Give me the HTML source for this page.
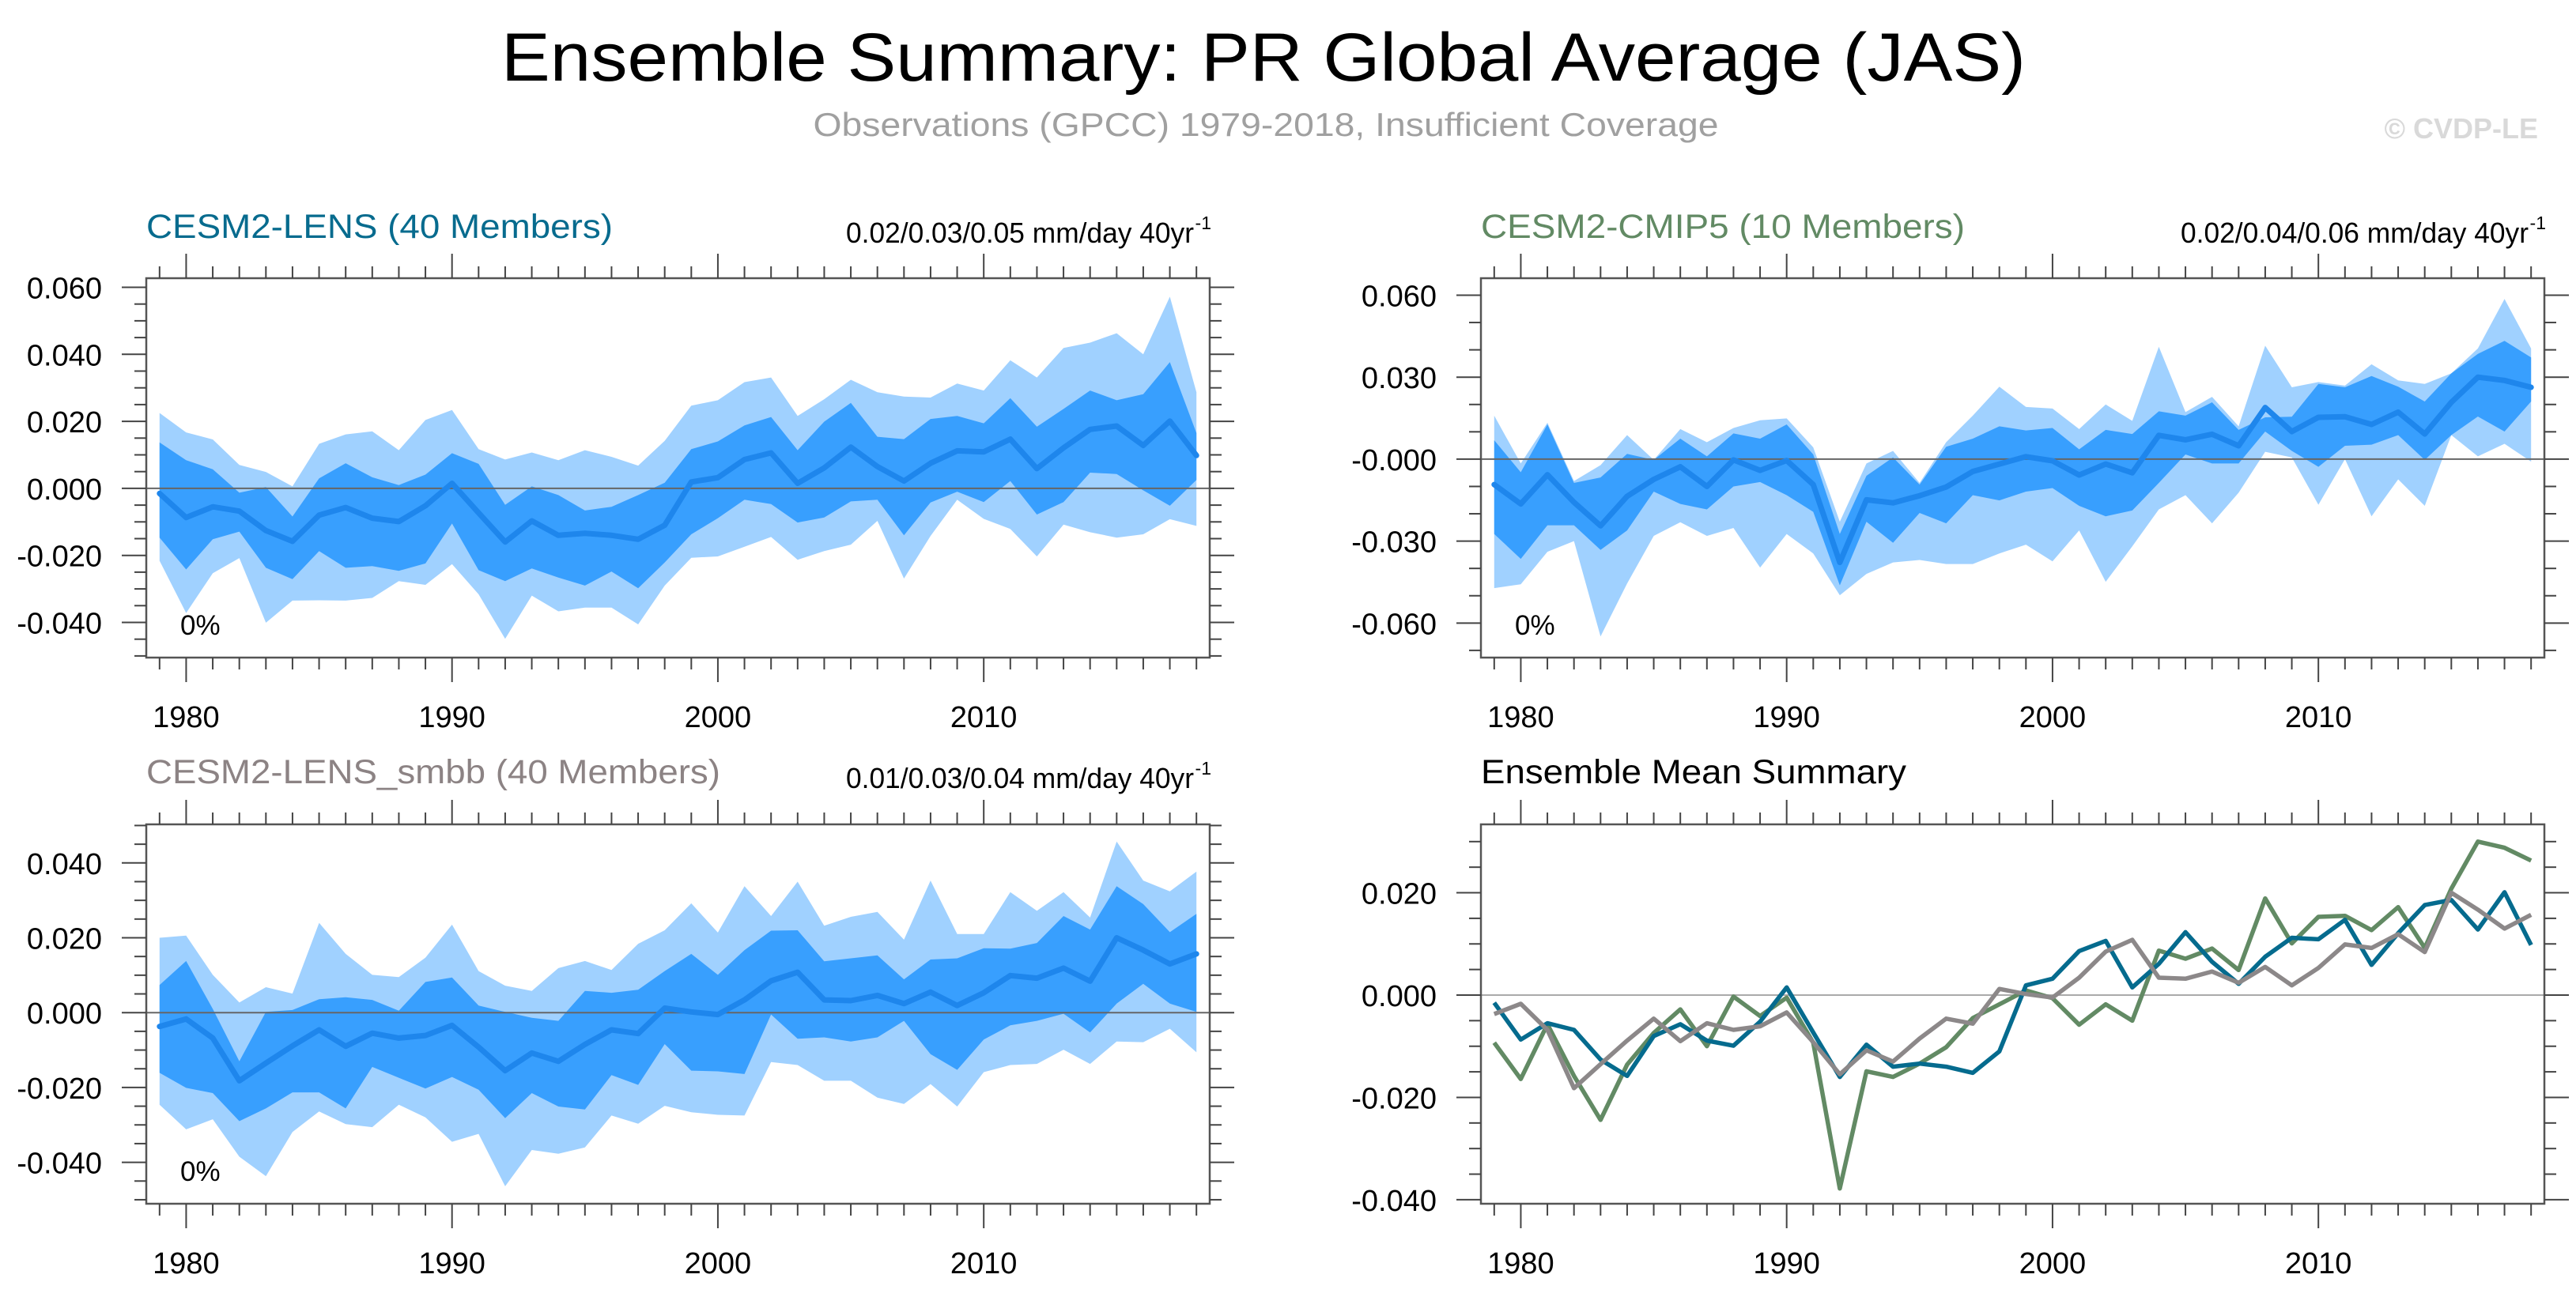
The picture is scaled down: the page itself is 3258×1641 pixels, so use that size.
<!DOCTYPE html>
<html><head><meta charset="utf-8"><style>
html,body{margin:0;padding:0;background:#fff}
svg{display:block;font-family:"Liberation Sans",sans-serif}
</style></head><body>
<svg id="fig" width="3258" height="1641" viewBox="0 0 3258 1641" xmlns="http://www.w3.org/2000/svg">
<text x="1598" y="102" font-size="86" text-anchor="middle" textLength="1928" lengthAdjust="spacingAndGlyphs" fill="#000">Ensemble Summary: PR Global Average (JAS)</text>
<text x="1601" y="172" font-size="42" text-anchor="middle" textLength="1145" lengthAdjust="spacingAndGlyphs" fill="#a0a0a0">Observations (GPCC) 1979-2018, Insufficient Coverage</text>
<text x="3210" y="175" font-size="36" font-weight="bold" text-anchor="end" fill="#d9d9d9">© CVDP-LE</text>
</svg>
<script>
const years = [];
for (let y = 1979; y <= 2018; y++) years.push(y);

const lensMean = [-0.0015,-0.0087,-0.0055,-0.0068,-0.0126,-0.0158,-0.008,-0.0057,-0.0089,-0.0099,-0.0052,0.0015,-0.0073,-0.016,-0.0097,-0.014,-0.0134,-0.014,-0.0152,-0.011,0.0019,0.0032,0.0086,0.0106,0.0015,0.0061,0.0123,0.0065,0.0022,0.0075,0.0112,0.0109,0.0147,0.0059,0.0121,0.0176,0.0186,0.0128,0.0201,0.0098];
const lensDarkHi = [0.0137,0.0084,0.0057,-0.0013,0.0004,-0.0084,0.003,0.0075,0.0033,0.001,0.0041,0.0105,0.0073,-0.0049,0.0006,-0.002,-0.0066,-0.0055,-0.002,0.0017,0.0117,0.014,0.0188,0.0213,0.0114,0.0199,0.0255,0.0154,0.0147,0.0207,0.0216,0.0194,0.0269,0.0184,0.0237,0.0292,0.0263,0.0281,0.0377,0.0165];
const lensDarkLo = [-0.0147,-0.0242,-0.0152,-0.0129,-0.0237,-0.0271,-0.0187,-0.0237,-0.0232,-0.0246,-0.0224,-0.0105,-0.0244,-0.0277,-0.0239,-0.0266,-0.029,-0.0248,-0.0298,-0.0221,-0.0137,-0.0089,-0.0034,-0.0047,-0.0102,-0.0087,-0.0039,-0.0034,-0.014,-0.0042,-0.001,-0.0041,0.0022,-0.0078,-0.0041,0.0047,0.0043,-0.0006,-0.0052,0.0025];
const lensLightHi = [0.0225,0.0167,0.0146,0.007,0.0049,0.0006,0.0133,0.0161,0.017,0.0114,0.0204,0.0234,0.0117,0.0086,0.0107,0.0084,0.0114,0.0094,0.0068,0.0142,0.0247,0.0263,0.0317,0.0331,0.0216,0.0266,0.0324,0.0287,0.0274,0.0271,0.0313,0.0292,0.0382,0.0331,0.0419,0.0435,0.0463,0.04,0.0572,0.0287];
const lensLightLo = [-0.0216,-0.0372,-0.0253,-0.0208,-0.0401,-0.0335,-0.0334,-0.0335,-0.0327,-0.0277,-0.0288,-0.0226,-0.0316,-0.0449,-0.032,-0.0367,-0.0356,-0.0356,-0.0406,-0.029,-0.0207,-0.0203,-0.0174,-0.0145,-0.0213,-0.0187,-0.0168,-0.0097,-0.0269,-0.0142,-0.0034,-0.0091,-0.0121,-0.0203,-0.0108,-0.0131,-0.0147,-0.0137,-0.0092,-0.0112];

const cmipMean = [-0.0093,-0.0164,-0.0057,-0.0158,-0.0244,-0.0136,-0.0074,-0.0028,-0.01,-0.0003,-0.0041,-0.0005,-0.0093,-0.0378,-0.0149,-0.016,-0.0134,-0.0102,-0.0045,-0.0018,0.0009,-0.0006,-0.0058,-0.0018,-0.005,0.0087,0.0071,0.0091,0.0049,0.0189,0.0101,0.0153,0.0155,0.0127,0.0172,0.0092,0.0208,0.030,0.0288,0.0263];
const cmipDarkHi = [0.0069,-0.0048,0.0127,-0.0087,-0.0067,0.0019,-0.0003,0.0075,0.001,0.0094,0.0075,0.0127,0.0017,-0.0274,-0.0061,0.0006,-0.0093,0.0045,0.0075,0.012,0.0105,0.0114,0.0036,0.0107,0.0092,0.0175,0.0159,0.0208,0.0107,0.0153,0.0155,0.0275,0.0263,0.0304,0.0265,0.0211,0.0314,0.0385,0.0433,0.0372];
const cmipDarkLo = [-0.0274,-0.0365,-0.0242,-0.0242,-0.0332,-0.0261,-0.0119,-0.0164,-0.0184,-0.01,-0.0084,-0.0132,-0.0193,-0.0462,-0.0229,-0.0306,-0.0197,-0.0235,-0.0132,-0.0151,-0.0119,-0.0106,-0.0171,-0.0209,-0.0188,-0.0087,0.0017,-0.0016,-0.0016,0.0101,0.003,-0.0028,0.0049,0.0053,0.0088,-0.0003,0.0088,0.0156,0.0101,0.0211];
const cmipLightHi = [0.0159,-0.0016,0.0133,-0.008,-0.0022,0.0088,-0.0003,0.011,0.0062,0.0114,0.0142,0.0149,0.0043,-0.0229,-0.0016,0.003,-0.0087,0.0062,0.0159,0.0265,0.0191,0.0185,0.011,0.02,0.014,0.0411,0.0172,0.0228,0.012,0.0415,0.0263,0.0282,0.0269,0.0347,0.0288,0.0275,0.0314,0.0405,0.0586,0.0405];
const cmipLightLo = [-0.0472,-0.0458,-0.0339,-0.03,-0.0649,-0.0455,-0.0281,-0.0231,-0.0281,-0.0252,-0.0397,-0.0274,-0.0345,-0.0498,-0.042,-0.0378,-0.0369,-0.0384,-0.0384,-0.0345,-0.0313,-0.0374,-0.0261,-0.0449,-0.0319,-0.0184,-0.0132,-0.0235,-0.0123,0.0027,0.0006,-0.0167,0,-0.0209,-0.0074,-0.0171,0.0088,0.001,0.0056,-0.0009];

const smbbMean = [-0.0037,-0.0017,-0.0068,-0.0182,-0.0135,-0.0089,-0.0046,-0.009,-0.0055,-0.0068,-0.0061,-0.0034,-0.0092,-0.0155,-0.0108,-0.013,-0.0085,-0.0046,-0.0056,0.0012,0.0002,-0.0005,0.0034,0.0085,0.0108,0.0034,0.0032,0.0046,0.0024,0.0055,0.0019,0.0053,0.0099,0.0092,0.0119,0.0084,0.02,0.0167,0.013,0.0157];
const smbbDarkHi = [0.0074,0.0138,0.001,-0.013,0.0002,0.0007,0.0036,0.0041,0.0034,0.0005,0.0082,0.0094,0.0019,0.0002,-0.0014,-0.0022,0.0058,0.0053,0.0061,0.0111,0.0157,0.0101,0.0167,0.0219,0.022,0.0137,0.0145,0.0153,0.0089,0.0142,0.0145,0.0172,0.0171,0.0186,0.0258,0.0222,0.0338,0.029,0.0215,0.0264];
const smbbDarkLo = [-0.0161,-0.0201,-0.0215,-0.029,-0.0256,-0.0213,-0.0213,-0.0256,-0.0145,-0.0174,-0.0203,-0.0172,-0.0206,-0.0282,-0.0215,-0.0251,-0.0259,-0.0167,-0.0193,-0.0084,-0.0155,-0.0157,-0.0164,-0.0005,-0.007,-0.0066,-0.0077,-0.0066,-0.0022,-0.0111,-0.0153,-0.0072,-0.0034,-0.0022,-0.0003,-0.0053,0.0024,0.0077,0.0024,0.0002];
const smbbLightHi = [0.02,0.0206,0.0101,0.0027,0.0068,0.0051,0.024,0.0157,0.0101,0.0095,0.0147,0.0235,0.0111,0.0072,0.0058,0.0119,0.0138,0.0114,0.0184,0.022,0.0292,0.0214,0.0338,0.0258,0.035,0.0232,0.0256,0.0269,0.0195,0.0353,0.021,0.021,0.0322,0.0272,0.0322,0.0254,0.0457,0.0353,0.0324,0.0377];
const smbbLightLo = [-0.0246,-0.0312,-0.0285,-0.0385,-0.0437,-0.0319,-0.0264,-0.0298,-0.0306,-0.0246,-0.028,-0.0345,-0.0324,-0.0464,-0.0367,-0.0377,-0.036,-0.0275,-0.0297,-0.0249,-0.0266,-0.0273,-0.0275,-0.0132,-0.014,-0.0182,-0.0182,-0.0227,-0.0244,-0.0191,-0.0251,-0.0159,-0.014,-0.0137,-0.0099,-0.0137,-0.0077,-0.0079,-0.0043,-0.0106];

const xTickLabels = [1980, 1990, 2000, 2010];
const p1Ticks = [0.06, 0.04, 0.02, 0, -0.02, -0.04];
const p1TickLabels = ["0.060","0.040","0.020","0.000","-0.020","-0.040"];
const p2Ticks = [0.06, 0.03, 0, -0.03, -0.06];
const p2TickLabels = ["0.060","0.030","-0.000","-0.030","-0.060"];
const p3Ticks = [0.04, 0.02, 0, -0.02, -0.04];
const p3TickLabels = ["0.040","0.020","0.000","-0.020","-0.040"];
const p4Ticks = [0.02, 0, -0.02, -0.04];
const p4TickLabels = ["0.020","0.000","-0.020","-0.040"];

const NS = "http://www.w3.org/2000/svg";
const svg = document.getElementById("fig");
function mk(tag, attrs, parent) {
  const e = document.createElementNS(NS, tag);
  for (const k in attrs) e.setAttribute(k, attrs[k]);
  (parent || svg).appendChild(e);
  return e;
}

function panel(cfg) {
  const g = mk("g", {});
  
  
  const L = cfg.left, R = cfg.right, T = cfg.top, B = cfg.bottom;
  const xd = [1978.5, 2018.5];
  const sx = v => L + (v - xd[0]) / (xd[1] - xd[0]) * (R - L);
  const sy = v => cfg.y0 - v * cfg.ppu;
  const poly = (hi, lo) => {
    let d = "";
    years.forEach((y, i) => { d += (i ? "L" : "M") + sx(y).toFixed(1) + "," + sy(hi[i]).toFixed(1); });
    for (let i = years.length - 1; i >= 0; i--) d += "L" + sx(years[i]).toFixed(1) + "," + sy(lo[i]).toFixed(1);
    return d + "Z";
  };
  const line = arr => years.map((y, i) => (i ? "L" : "M") + sx(y).toFixed(1) + "," + sy(arr[i]).toFixed(1)).join("");

  if (cfg.bands) {
    const b1 = mk("path", {d: poly(cfg.bands.lh, cfg.bands.ll), fill: "#a0d1ff"}, g);
    
    
    const b2 = mk("path", {d: poly(cfg.bands.dh, cfg.bands.dl), fill: "#389ffe"}, g);
    
    
  }
  const z = mk("line", {x1: L, x2: R, y1: sy(0), y2: sy(0), stroke: cfg.bands ? "#666" : "#aaa", "stroke-width": 2}, g);
  
  
  if (cfg.bands) {
    const m = mk("path", {d: line(cfg.mean), fill: "none", stroke: "#1e86ec", "stroke-width": 7, "stroke-linejoin": "round", "stroke-linecap": "round"}, g);
    
    
  }
  if (cfg.lines) {
    cfg.lines.forEach(ln => {
      const p = mk("path", {d: line(ln.data), fill: "none", stroke: ln.color, "stroke-width": 5.5, "stroke-linejoin": "round"}, g);
      
      
    });
  }
  const fr = mk("rect", {x: L, y: T, width: R - L, height: B - T, fill: "none", stroke: "#555", "stroke-width": 2.5}, g);
  
  
  for (let y = 1979; y <= 2018; y++) {
    const major = y % 10 === 0;
    const len = major ? 31 : 15;
    const x = sx(y);
    mk("line", {x1: x, x2: x, y1: T, y2: T - len, stroke: "#444", "stroke-width": 2}, g);
    mk("line", {x1: x, x2: x, y1: B, y2: B + len, stroke: "#444", "stroke-width": 2}, g);
  }
  xTickLabels.forEach(y => {
    const t = mk("text", {x: sx(y), y: B + 88, "font-size": 38, "text-anchor": "middle", fill: "#000"}, g);
    t.textContent = y;
    
    
  });
  const vTop = (cfg.y0 - T) / cfg.ppu, vBot = (cfg.y0 - B) / cfg.ppu;
  const n0 = Math.ceil(vBot / cfg.minor - 1e-6), n1 = Math.floor(vTop / cfg.minor + 1e-6);
  for (let n = n0; n <= n1; n++) {
    const v = n * cfg.minor;
    const major = cfg.ticks.some(t => Math.abs(t - v) < 1e-6);
    const len = major ? 31 : 15;
    const y = sy(v);
    mk("line", {x1: L, x2: L - len, y1: y, y2: y, stroke: "#444", "stroke-width": 2}, g);
    mk("line", {x1: R, x2: R + len, y1: y, y2: y, stroke: "#444", "stroke-width": 2}, g);
  }
  cfg.ticks.forEach((v, i) => {
    const t = mk("text", {x: L - 56, y: sy(v) + 14, "font-size": 38, "text-anchor": "end", fill: "#000"}, g);
    t.textContent = cfg.tickLabels[i];
    
    
  });
  const tt = mk("text", {x: L, y: cfg.titleY, "font-size": 43, fill: cfg.titleColor, textLength: cfg.titleLen, lengthAdjust: "spacingAndGlyphs"}, g);
  tt.textContent = cfg.title;
  
  
  if (cfg.trend) {
    const tr = mk("text", {x: R - 20, y: cfg.titleY + 6, "font-size": 36, "text-anchor": "end", fill: "#000", textLength: 440, lengthAdjust: "spacingAndGlyphs"}, g);
    tr.textContent = cfg.trend;
    
    
    const sup = mk("text", {x: R + 2, y: cfg.titleY - 11, "font-size": 23, "text-anchor": "end", fill: "#000"}, g);
    sup.textContent = "-1";
    
    
  }
  if (cfg.pct) {
    const p = mk("text", {x: L + 43, y: cfg.pctY, "font-size": 35, fill: "#000"}, g);
    p.textContent = "0%";
    
    
  }
}

panel({name: "cesm2-lens-panel", left: 185, right: 1530, top: 352, bottom: 832, y0: 617.9, ppu: 4240, minor: 0.005,
  ticks: p1Ticks, tickLabels: p1TickLabels, title: "CESM2-LENS (40 Members)", titleColor: "#076b8e", titleLen: 590, titleY: 301,
  trend: "0.02/0.03/0.05 mm/day 40yr", pct: true, pctY: 803,
  bands: {lh: lensLightHi, ll: lensLightLo, dh: lensDarkHi, dl: lensDarkLo}, mean: lensMean});
panel({name: "cesm2-cmip5-panel", left: 1873, right: 3218, top: 352, bottom: 832, y0: 580.9, ppu: 3457, minor: 0.01,
  ticks: p2Ticks, tickLabels: p2TickLabels, title: "CESM2-CMIP5 (10 Members)", titleColor: "#628a64", titleLen: 612, titleY: 301,
  trend: "0.02/0.04/0.06 mm/day 40yr", pct: true, pctY: 803,
  bands: {lh: cmipLightHi, ll: cmipLightLo, dh: cmipDarkHi, dl: cmipDarkLo}, mean: cmipMean});
panel({name: "cesm2-lens-smbb-panel", left: 185, right: 1530, top: 1043, bottom: 1523, y0: 1281.2, ppu: 4735, minor: 0.005,
  ticks: p3Ticks, tickLabels: p3TickLabels, title: "CESM2-LENS_smbb (40 Members)", titleColor: "#8c8384", titleLen: 726, titleY: 991,
  trend: "0.01/0.03/0.04 mm/day 40yr", pct: true, pctY: 1494,
  bands: {lh: smbbLightHi, ll: smbbLightLo, dh: smbbDarkHi, dl: smbbDarkLo}, mean: smbbMean});
panel({name: "ensemble-mean-summary-panel", left: 1873, right: 3218, top: 1043, bottom: 1523, y0: 1259, ppu: 6473, minor: 0.005,
  ticks: p4Ticks, tickLabels: p4TickLabels, title: "Ensemble Mean Summary", titleColor: "#000", titleLen: 538, titleY: 991,
  lines: [
    {name: "cmip5-mean-line", data: cmipMean, color: "#628a64"},
    {name: "lens-mean-line", data: lensMean, color: "#056b8e"},
    {name: "smbb-mean-line", data: smbbMean, color: "#8c8889"}
  ]});
</script>
</body></html>
